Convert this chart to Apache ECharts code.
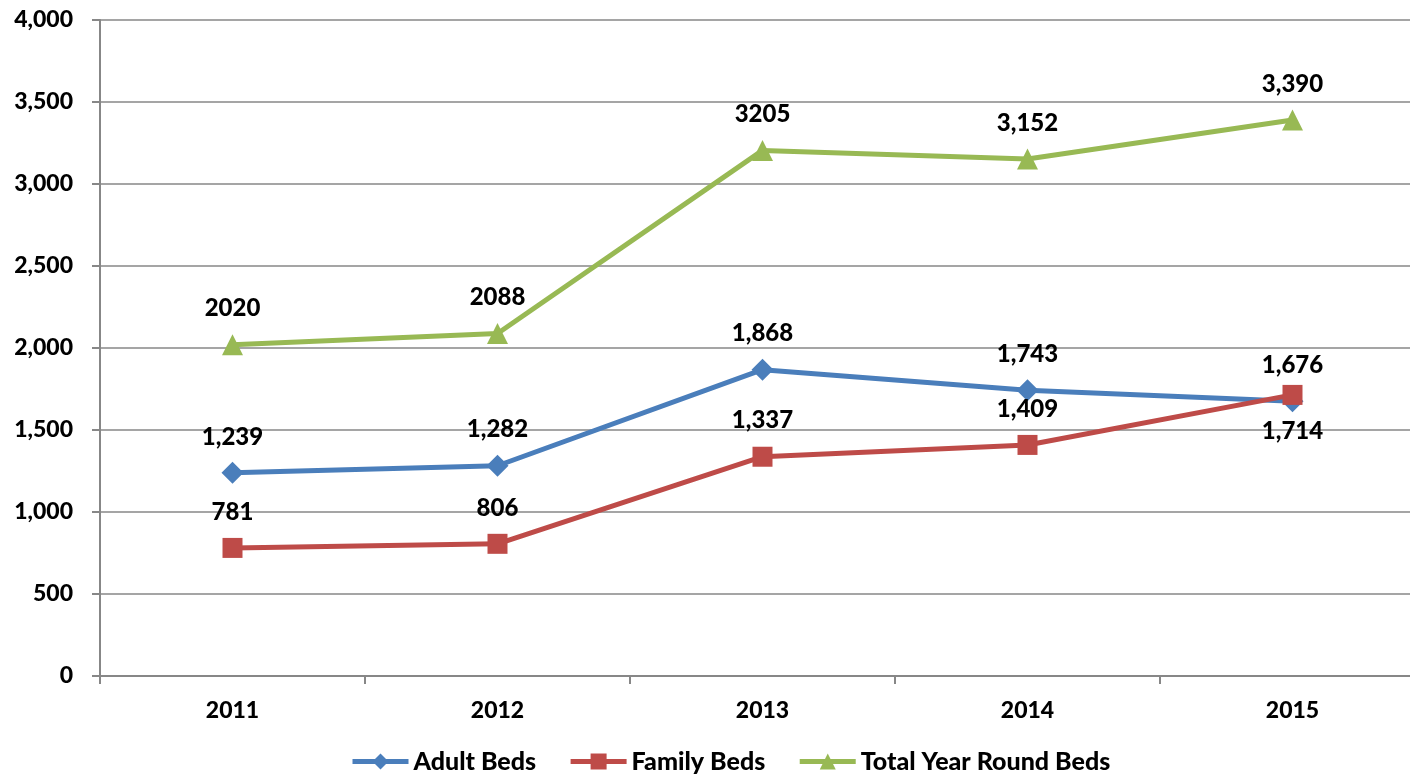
<!DOCTYPE html>
<html>
<head>
<meta charset="utf-8">
<script src="https://cdn.jsdelivr.net/npm/echarts@6/dist/echarts.min.js"></script>
<style>
  html, body { margin: 0; padding: 0; background: #fff; overflow: hidden; }
  /* the plot area runs past the right edge of the picture, so the canvas is wider than the window */
  #main { width: 1425px; height: 780px; }
</style>
</head>
<body>
<div id="main"></div>
<script>
// chart data
var years = ['2011', '2012', '2013', '2014', '2015'];
var adultBeds = [1239, 1282, 1868, 1743, 1676];
var familyBeds = [781, 806, 1337, 1409, 1714];
var totalBeds = [2020, 2088, 3205, 3152, 3390];
var totalLabels = ['2020', '2088', '3205', '3,152', '3,390'];
var yTicks = [0, 500, 1000, 1500, 2000, 2500, 3000, 3500, 4000];

var FONT = 'Lato';
var fmt = function (v) { return v.toLocaleString('en-US'); };

// labels sit above the point; the family label at 2015 was moved below
function points(values, texts, offsets) {
  return values.map(function (v, i) {
    return {
      value: v,
      label: {
        formatter: texts ? texts[i] : fmt(v),
        offset: [0, offsets && offsets[i] != null ? offsets[i] : -36]
      }
    };
  });
}

function lineSeries(name, color, symbol, size, data) {
  return {
    name: name,
    type: 'line',
    data: data,
    symbol: symbol,
    symbolSize: size,
    lineStyle: { color: color, width: 5 },
    itemStyle: { color: color },
    label: {
      show: true,
      position: 'inside',
      color: '#000',
      fontFamily: FONT,
      fontWeight: 900,
      fontSize: 24
    },
    emphasis: { disabled: true }
  };
}

var myChart = echarts.init(document.getElementById('main'));
var option = {
  animation: false,
  backgroundColor: '#fff',
  grid: { left: 100, top: 20, right: 0, height: 656 },
  legend: {
    left: 345,
    bottom: 1,
    itemWidth: 56,
    itemHeight: 20,
    itemGap: 32,
    lineStyle: { width: 5 },
    textStyle: { fontFamily: FONT, fontWeight: 900, fontSize: 25, color: '#000' },
    data: ['Adult Beds', 'Family Beds', 'Total Year Round Beds']
  },
  xAxis: {
    type: 'category',
    data: years,
    boundaryGap: true,
    axisLine: { lineStyle: { color: '#878787', width: 2 } },
    axisTick: { show: true, length: 8, lineStyle: { color: '#878787', width: 2 } },
    axisLabel: { margin: 23, color: '#000', fontFamily: FONT, fontWeight: 900, fontSize: 23 }
  },
  yAxis: {
    type: 'value',
    min: yTicks[0],
    max: yTicks[yTicks.length - 1],
    interval: yTicks[1] - yTicks[0],
    axisLine: { show: true, lineStyle: { color: '#878787', width: 2 } },
    axisTick: { show: true, length: 8, lineStyle: { color: '#878787', width: 2 } },
    splitLine: { lineStyle: { color: '#878787', width: 1.5 } },
    axisLabel: { margin: 27, color: '#000', fontFamily: FONT, fontWeight: 900, fontSize: 23, formatter: fmt }
  },
  series: [
    lineSeries('Adult Beds', '#4A7EBB', 'diamond', 22,
      points(adultBeds, null, null)),
    lineSeries('Family Beds', '#BE4B48', 'rect', 20,
      points(familyBeds, null, [null, null, null, null, 36])),
    lineSeries('Total Year Round Beds', '#98B954', 'triangle', 21,
      points(totalBeds, totalLabels, null))
  ]
};
myChart.setOption(option, true);
</script>
</body>
</html>
